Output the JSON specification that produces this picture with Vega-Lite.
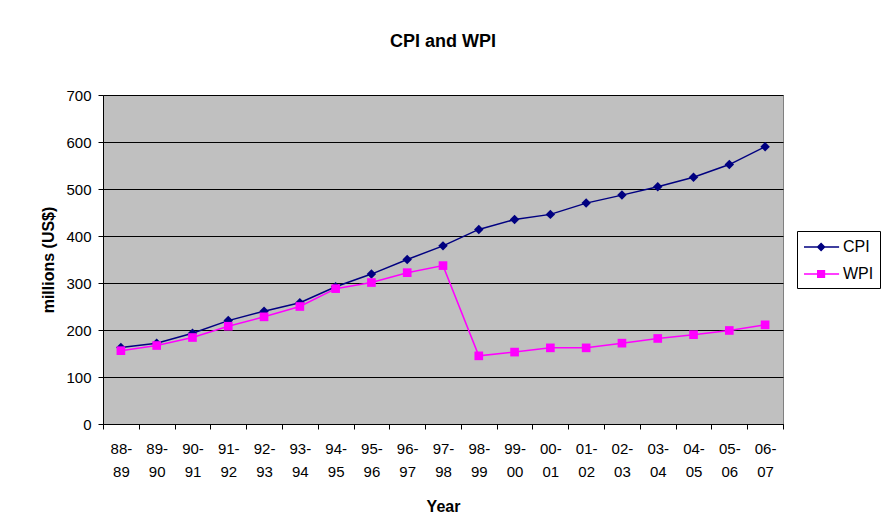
{
  "$schema": "https://vega.github.io/schema/vega-lite/v6.json",
  "autosize": "none",
  "width": 680,
  "height": 329,
  "padding": {"left": 103, "top": 95, "right": 103, "bottom": 107},
  "background": "white",
  "title": {"text": "CPI and WPI", "font": "Liberation Sans", "fontSize": 18, "fontWeight": "bold", "color": "black", "anchor": "middle", "offset": 37},
  "config": {
    "view": {"fill": "#C0C0C0", "stroke": "#808080", "strokeWidth": 1},
    "font": "Liberation Sans"
  },
  "data": {"values": [
    {"year": "88-89", "series": "CPI", "value": 163},
    {"year": "89-90", "series": "CPI", "value": 172},
    {"year": "90-91", "series": "CPI", "value": 193},
    {"year": "91-92", "series": "CPI", "value": 220},
    {"year": "92-93", "series": "CPI", "value": 240},
    {"year": "93-94", "series": "CPI", "value": 258},
    {"year": "94-95", "series": "CPI", "value": 292},
    {"year": "95-96", "series": "CPI", "value": 319},
    {"year": "96-97", "series": "CPI", "value": 350},
    {"year": "97-98", "series": "CPI", "value": 379},
    {"year": "98-99", "series": "CPI", "value": 414},
    {"year": "99-00", "series": "CPI", "value": 435},
    {"year": "00-01", "series": "CPI", "value": 446},
    {"year": "01-02", "series": "CPI", "value": 470},
    {"year": "02-03", "series": "CPI", "value": 487},
    {"year": "03-04", "series": "CPI", "value": 505},
    {"year": "04-05", "series": "CPI", "value": 525},
    {"year": "05-06", "series": "CPI", "value": 552},
    {"year": "06-07", "series": "CPI", "value": 590},
    {"year": "88-89", "series": "WPI", "value": 156},
    {"year": "89-90", "series": "WPI", "value": 167},
    {"year": "90-91", "series": "WPI", "value": 184},
    {"year": "91-92", "series": "WPI", "value": 208},
    {"year": "92-93", "series": "WPI", "value": 228},
    {"year": "93-94", "series": "WPI", "value": 250},
    {"year": "94-95", "series": "WPI", "value": 288},
    {"year": "95-96", "series": "WPI", "value": 301},
    {"year": "96-97", "series": "WPI", "value": 322},
    {"year": "97-98", "series": "WPI", "value": 337},
    {"year": "98-99", "series": "WPI", "value": 145},
    {"year": "99-00", "series": "WPI", "value": 153},
    {"year": "00-01", "series": "WPI", "value": 162},
    {"year": "01-02", "series": "WPI", "value": 162},
    {"year": "02-03", "series": "WPI", "value": 172},
    {"year": "03-04", "series": "WPI", "value": 182},
    {"year": "04-05", "series": "WPI", "value": 190},
    {"year": "05-06", "series": "WPI", "value": 199},
    {"year": "06-07", "series": "WPI", "value": 211}
  ]},
  "encoding": {
    "x": {
      "field": "year", "type": "ordinal", "sort": null,
      "scale": {"type": "band", "paddingInner": 0, "paddingOuter": 0},
      "axis": {
        "title": "Year", "titleFontSize": 16, "titleFontWeight": "bold", "titleColor": "black", "titlePadding": 19,
        "labelAngle": 0, "labelFontSize": 15, "labelColor": "black", "labelLineHeight": 23, "labelPadding": 12,
        "labelExpr": "datum.label ? [split(datum.label, '-')[0] + '-', split(datum.label, '-')[1]] : ''",
        "tickBand": "extent", "tickColor": "black", "tickSize": 5, "domainColor": "black", "grid": false
      }
    },
    "y": {
      "field": "value", "type": "quantitative",
      "scale": {"domain": [0, 700], "nice": false},
      "axis": {
        "title": "millions (US$)", "titleFontSize": 16, "titleFontWeight": "bold", "titleColor": "black", "titlePadding": 9,
        "values": [0, 100, 200, 300, 400, 500, 600, 700],
        "labelFontSize": 15, "labelColor": "black", "labelPadding": 7,
        "tickColor": "black", "tickSize": 5, "domainColor": "black",
        "grid": true, "gridColor": "black", "gridOpacity": 1, "gridWidth": 1
      }
    },
    "color": {
      "field": "series", "type": "nominal",
      "scale": {"domain": ["CPI", "WPI"], "range": ["#000080", "#FF00FF"]},
      "legend": {
        "title": null, "orient": "none", "legendX": 694, "legendY": 136,
        "strokeColor": "black", "fillColor": "white", "padding": 6,
        "labelFontSize": 16, "labelColor": "black", "rowPadding": 9, "labelOffset": 20,
        "symbolSize": 324, "symbolStrokeWidth": 1.5,
        "encode": {"symbols": {"update": {
          "shape": {"signal": "datum.value === 'CPI' ? 'M-1,0H2.9M0.9,-0.38L1.28,0L0.9,0.38L0.52,0Z' : 'M-1,0H2.9M0.53,-0.37H1.27V0.37H0.53Z'"},
          "fill": {"signal": "datum.value === 'CPI' ? '#000080' : '#FF00FF'"},
          "stroke": {"signal": "datum.value === 'CPI' ? '#000080' : '#FF00FF'"},
          "strokeWidth": {"value": 1.5},
          "opacity": {"value": 1},
          "fillOpacity": {"value": 1}
        }}}
      }
    }
  },
  "layer": [
    {"mark": {"type": "line", "strokeWidth": 1.5}},
    {
      "transform": [{"filter": "datum.series === 'CPI'"}],
      "mark": {"type": "point", "shape": "diamond", "size": 90, "filled": true, "opacity": 1}
    },
    {
      "transform": [{"filter": "datum.series === 'WPI'"}],
      "mark": {"type": "point", "shape": "square", "size": 75, "filled": true, "opacity": 1}
    }
  ]
}
